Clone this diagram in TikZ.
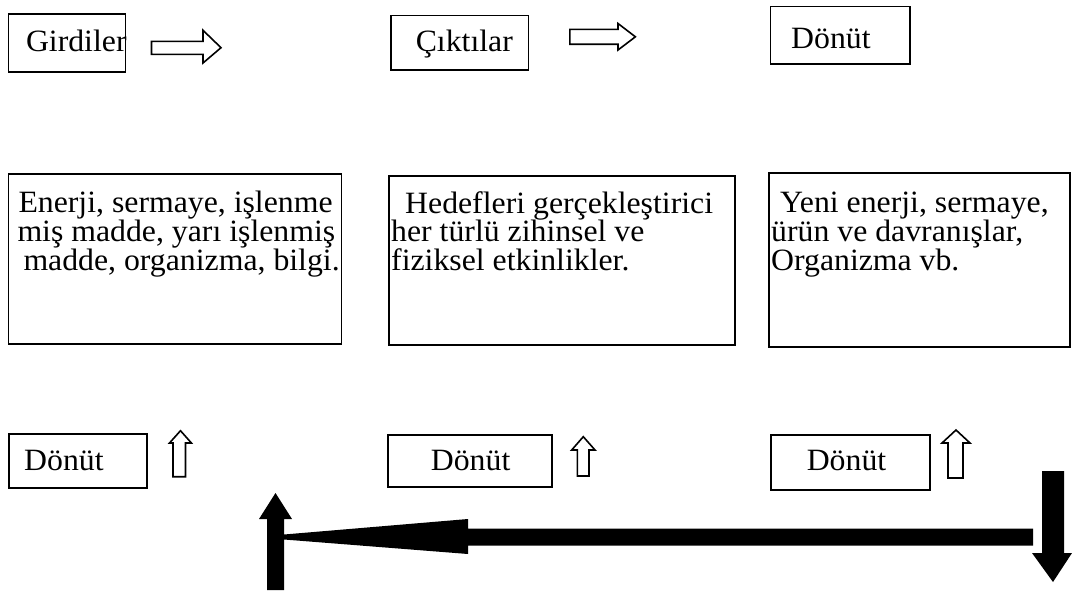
\documentclass[tikz,border=0pt]{standalone}
\usepackage{fontspec}
\setmainfont{Liberation Serif}[FakeStretch=1.025]
\begin{document}
\begin{tikzpicture}[x=1pt,y=-1pt,
  box/.style={draw, line width=1.8pt, inner sep=0pt, anchor=north west},
  txt/.style={anchor=base west, inner sep=0pt, font=\fontsize{31}{29}\selectfont},
  hollow/.style={draw, line width=1.6pt, fill=white, line join=miter},
  solidarrow/.style={fill=black, draw=none}]
\useasboundingbox (0,0) rectangle (1072,590);
% top row
\node[box, minimum width=117pt, minimum height=58.6pt] (g) at (7.6,12.7) {};
\node[txt] (tg) at (25.8,51) {Girdiler};
\node[box, minimum width=137.5pt, minimum height=54.5pt] (c) at (390,14.5) {};
\node[txt] (tc) at (415.6,51) {Çıktılar};
\node[box, minimum width=139.5pt, minimum height=57.5pt] (d0) at (769.5,5.5) {};
\node[txt] (td0) at (791,48.4) {Dönüt};
\draw[hollow] (151.5,41.3) -- (203,41.3) -- (203,30.3) -- (221,47.7) -- (203,63) -- (203,54.4) -- (151.5,54.4) -- cycle;
\draw[hollow] (569.8,29.4) -- (618,29.4) -- (618,23.5) -- (635.4,36.8) -- (618,50) -- (618,44.2) -- (569.8,44.2) -- cycle;
% middle row
\node[box, minimum width=333pt, minimum height=169.7pt] (b1) at (7.6,173.3) {};
\node[txt] (t1a) at (18.3,212.7) {Enerji, sermaye, işlenme};
\node[txt] (t1b) at (17.3,241.3) {miş madde, yarı işlenmiş};
\node[txt] (t1c) at (23.3,270) {madde, organizma, bilgi.};
\node[box, minimum width=345.7pt, minimum height=169pt] (b2) at (388.3,175) {};
\node[txt] (t2a) at (405,213) {Hedefleri gerçekleştirici};
\node[txt] (t2b) at (391,241.6) {her türlü zihinsel ve};
\node[txt] (t2c) at (391,270.3) {fiziksel etkinlikler.};
\node[box, minimum width=300.7pt, minimum height=174.5pt] (b3) at (768.3,171.7) {};
\node[txt] (t3a) at (780,212.5) {Yeni enerji, sermaye,};
\node[txt] (t3b) at (771,241.2) {ürün ve davranışlar,};
\node[txt] (t3c) at (771,270) {Organizma vb.};
% bottom row
\node[box, minimum width=138pt, minimum height=54pt] (f1) at (8.2,433.3) {};
\node[txt] (tf1) at (24,470.3) {Dönüt};
\node[box, minimum width=164pt, minimum height=51.4pt] (f2) at (386.7,434.3) {};
\node[txt] (tf2) at (430.7,470.7) {Dönüt};
\node[box, minimum width=159pt, minimum height=55pt] (f3) at (770,434) {};
\node[txt] (tf3) at (806.6,470.5) {Dönüt};
\draw[hollow] (173,476.7) -- (173,443) -- (169.5,443) -- (180.5,430.7) -- (191.4,443) -- (185.5,443) -- (185.5,476.7) -- cycle;
\draw[hollow] (577.3,476) -- (577.3,450) -- (571.7,450) -- (583.3,436.7) -- (595,450) -- (589,450) -- (589,476) -- cycle;
\draw[hollow] (948,478) -- (948,443) -- (942,443) -- (956,430) -- (970,443) -- (963,443) -- (963,478) -- cycle;
% thick black arrows
\fill[solidarrow] (267,590) -- (267,519) -- (259,519) -- (275.5,493) -- (292,519) -- (284,519) -- (284,590) -- cycle;
\fill[solidarrow] (1033,528.5) -- (468,528.5) -- (468,519) -- (284,534.5) -- (284,539.5) -- (468,554) -- (468,545.5) -- (1033,545.5) -- cycle;
\fill[solidarrow] (1042,471) -- (1064,471) -- (1064,553) -- (1072,553) -- (1053,582) -- (1032,553) -- (1042,553) -- cycle;
\end{tikzpicture}
\end{document}
